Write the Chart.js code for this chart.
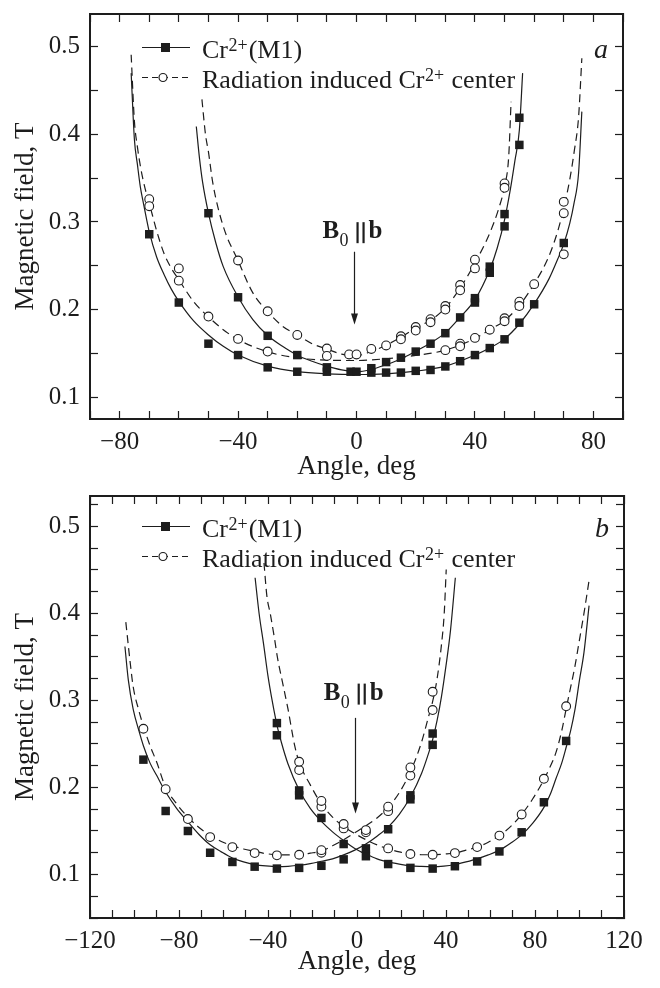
<!DOCTYPE html>
<html>
<head>
<meta charset="utf-8">
<script src="https://cdn.jsdelivr.net/npm/chart.js@4.4.0/dist/chart.umd.min.js"></script>
<style>
  body { margin: 0; background: #fff; }
  canvas { display: block; }
</style>
</head>
<body>
<canvas id="panelA" width="660" height="490"></canvas>
<canvas id="panelB" width="660" height="498"></canvas>
<script>
// ---- panel a: measured resonance fields ----
const aCrAngle = [-70, -60, -50, -50, -40, -40, -30, -30, -20, -20, -10, -10, -2, 0, 5, 5, 10, 10, 15, 15,
  20, 20, 25, 25, 30, 30, 35, 35, 40, 40, 40, 45, 45, 45, 50, 50, 50, 55, 55, 55, 60, 70];
const aCrField = [0.286, 0.208, 0.161, 0.310, 0.148, 0.214, 0.134, 0.170, 0.129, 0.148, 0.129, 0.134, 0.129, 0.129, 0.128, 0.133, 0.128, 0.140, 0.128, 0.145,
  0.130, 0.152, 0.131, 0.161, 0.135, 0.173, 0.141, 0.191, 0.148, 0.208, 0.213, 0.156, 0.242, 0.249, 0.166, 0.295, 0.309, 0.185, 0.388, 0.419, 0.206, 0.276];

const aRadAngle = [-70, -70, -60, -60, -50, -40, -40, -30, -30, -20, -10, -10, -2.5, 0, 5, 10, 15, 15, 20, 20, 25, 25,
  30, 30, 30, 35, 35, 35, 35, 40, 40, 40, 45, 50, 50, 50, 50, 55, 55, 60, 70, 70, 70];
const aRadField = [0.326, 0.318, 0.247, 0.233, 0.192, 0.256, 0.1665, 0.198, 0.152, 0.171, 0.1555, 0.147, 0.1487, 0.1487, 0.155, 0.159, 0.1695, 0.166, 0.180, 0.176, 0.189, 0.1855,
  0.204, 0.200, 0.1536, 0.228, 0.222, 0.161, 0.158, 0.257, 0.247, 0.1676, 0.177, 0.344, 0.339, 0.190, 0.1866, 0.209, 0.204, 0.229, 0.323, 0.310, 0.263];

// ---- panel a: fitted angular dependences ----
const aFitCrOuterAngle = [-76.1, -75, -74, -73, -72, -71, -70, -67.5, -65, -62.5, -60, -55, -50, -45, -40, -30, -20, -10, 0,
  10, 20, 30, 40, 45, 50, 55, 60, 65, 68, 70, 72, 73.5, 75, 76.1];
const aFitCrOuterField = [0.470, 0.394, 0.366, 0.340, 0.322, 0.305, 0.289, 0.260, 0.240, 0.223, 0.2094, 0.187, 0.171, 0.158, 0.148, 0.1353, 0.129, 0.1266, 0.1258,
  0.1266, 0.1296, 0.1353, 0.148, 0.156, 0.1665, 0.1835, 0.2064, 0.235, 0.258, 0.275, 0.298, 0.322, 0.356, 0.426];

const aFitRadOuterAngle = [-76.1, -75, -74, -73, -72, -71, -70, -67.5, -65, -62.5, -60, -55, -50, -45, -40, -30, -20, -10, 0,
  10, 20, 30, 40, 45, 50, 55, 60, 65, 68, 70, 72, 73.5, 75, 76.1];
const aFitRadOuterField = [0.491, 0.415, 0.386, 0.364, 0.347, 0.333, 0.3215, 0.290, 0.264, 0.247, 0.234, 0.209, 0.1916, 0.177, 0.1657, 0.1517, 0.1448, 0.1422, 0.1418,
  0.1438, 0.1476, 0.1536, 0.1669, 0.177, 0.1874, 0.2046, 0.2292, 0.261, 0.290, 0.316, 0.348, 0.380, 0.420, 0.487];

const aFitCrInnerAngle = [-54.1, -53, -52, -50, -47.5, -45, -40, -35, -30, -25, -20, -15, -10, -5, 0,
  5, 10, 15, 20, 25, 30, 35, 40, 45, 47.5, 50, 52, 53.5, 55, 56.1];
const aFitCrInnerField = [0.409, 0.372, 0.346, 0.310, 0.276, 0.249, 0.2144, 0.1885, 0.1703, 0.158, 0.1479, 0.141, 0.1353, 0.131, 0.1289,
  0.1315, 0.137, 0.1435, 0.1524, 0.1619, 0.1733, 0.1912, 0.2113, 0.2455, 0.270, 0.3025, 0.338, 0.370, 0.405, 0.470];

const aFitRadInnerAngle = [-52.2, -51, -50, -48.5, -45, -40, -35, -30, -25, -20, -15, -10, -5, 0,
  5, 10, 15, 20, 25, 30, 35, 40, 45, 48, 50, 51.4, 52.2];
const aFitRadInnerField = [0.440, 0.400, 0.380, 0.344, 0.295, 0.2558, 0.219, 0.1976, 0.181, 0.171, 0.161, 0.155, 0.149, 0.1475,
  0.152, 0.1593, 0.1684, 0.179, 0.1878, 0.2018, 0.2246, 0.2531, 0.2873, 0.315, 0.3405, 0.3747, 0.4374];

// ---- panel b: measured resonance fields ----
const bCrAngle = [-96, -86, -76, -66, -56, -46, -36, -36, -36, -26, -26, -26, -16, -16, -6, -6, 4, 4, 14, 14,
  24, 24, 24, 34, 34, 34, 44, 54, 64, 74, 84, 94];
const bCrField = [0.232, 0.173, 0.150, 0.125, 0.1144, 0.109, 0.1068, 0.260, 0.274, 0.1076, 0.191, 0.1966, 0.110, 0.165, 0.1174, 0.135, 0.121, 0.130, 0.112, 0.152,
  0.1076, 0.1864, 0.191, 0.1068, 0.249, 0.262, 0.1095, 0.115, 0.1265, 0.1485, 0.183, 0.2535];

const bRadAngle = [-96, -86, -76, -66, -56, -46, -36, -26, -26, -26, -16, -16, -16, -16, -6, -6, 4, 4, 14, 14, 14,
  24, 24, 24, 34, 34, 34, 44, 54, 64, 74, 84, 94];
const bRadField = [0.2675, 0.198, 0.1637, 0.143, 0.1315, 0.1246, 0.122, 0.1227, 0.220, 0.2296, 0.125, 0.128, 0.178, 0.1845, 0.153, 0.158, 0.1485, 0.151, 0.130, 0.1728, 0.178,
  0.1235, 0.2137, 0.223, 0.1227, 0.289, 0.310, 0.1246, 0.1315, 0.1447, 0.169, 0.210, 0.2933];

// ---- panel b: fitted angular dependences ----
const bFitCrLeftAngle = [-104.3, -102.8, -100.6, -98, -96, -93, -90, -86, -81, -76, -71, -66, -61, -56, -51, -46, -41, -36, -31, -26,
  -21, -16, -11, -6, -1, 4, 9, 14, 19, 24, 29, 32, 34, 36, 38, 40, 42, 44.2];
const bFitCrLeftField = [0.362, 0.324, 0.290, 0.265, 0.248, 0.228, 0.2137, 0.1948, 0.1758, 0.1606, 0.146, 0.1341, 0.126, 0.119, 0.1145, 0.1114, 0.1098, 0.109, 0.1094, 0.1106,
  0.1125, 0.1152, 0.118, 0.1225, 0.128, 0.135, 0.144, 0.1545, 0.169, 0.189, 0.216, 0.238, 0.255, 0.277, 0.305, 0.340, 0.380, 0.441];

const bFitCrRightAngle = [-45.8, -44, -42, -40, -38, -36, -34, -31, -26, -21, -16, -11, -6, -1, 4, 9, 14, 19, 24, 29,
  34, 39, 44, 49, 54, 59, 64, 69, 74, 79, 84.2, 87, 89.4, 92, 94.2, 96, 98, 100, 102, 104.3];
const bFitCrRightField = [0.441, 0.400, 0.365, 0.328, 0.298, 0.272, 0.252, 0.227, 0.197, 0.176, 0.161, 0.149, 0.139, 0.130, 0.1235, 0.118, 0.1145, 0.112, 0.110, 0.1093,
  0.109, 0.1097, 0.1115, 0.1145, 0.118, 0.1225, 0.128, 0.136, 0.1455, 0.159, 0.178, 0.193, 0.210, 0.228, 0.248, 0.265, 0.290, 0.3236, 0.355, 0.409];

const bFitRadLeftAngle = [-103.9, -102, -100.6, -98, -96, -93, -90, -86, -81, -76, -71, -66, -61, -56, -51, -46, -41, -36, -31,
  -26, -21, -16, -11, -6, -1, 4, 9, 14, 19, 24, 29, 32, 34.1, 36, 38, 39.2, 40.1];
const bFitRadLeftField = [0.390, 0.345, 0.316, 0.288, 0.2706, 0.248, 0.229, 0.200, 0.181, 0.166, 0.154, 0.1447, 0.138, 0.133, 0.1293, 0.1265, 0.124, 0.1227, 0.1225,
  0.1227, 0.1245, 0.127, 0.133, 0.140, 0.148, 0.156, 0.165, 0.177, 0.194, 0.218, 0.252, 0.280, 0.300, 0.325, 0.365, 0.400, 0.4506];

const bFitRadRightAngle = [-41.8, -40.5, -39, -37, -35.8, -33, -31, -28, -26, -21, -16, -11, -6, -1, 4, 9, 14, 19, 24, 29,
  34, 39, 44, 49, 54, 59, 64, 69, 74, 79, 84.2, 87, 89.4, 92, 94.2, 96, 98, 100, 102, 104.3];
const bFitRadRightField = [0.458, 0.420, 0.400, 0.370, 0.350, 0.315, 0.290, 0.248, 0.229, 0.203, 0.181, 0.166, 0.155, 0.147, 0.140, 0.134, 0.1296, 0.126, 0.1237, 0.1227,
  0.1227, 0.1235, 0.1246, 0.128, 0.1315, 0.137, 0.1447, 0.155, 0.169, 0.187, 0.210, 0.225, 0.240, 0.265, 0.293, 0.315, 0.340, 0.370, 0.400, 0.438];

const INK = '#1d1d1d';
const SERIF = '"Liberation Serif", "Times New Roman", serif';

const pts = (xs, ys) => xs.map((x, i) => ({ x, y: ys[i] }));

function curve(xs, ys, dashed) {
  return {
    data: pts(xs, ys),
    showLine: true,
    pointRadius: 0,
    borderColor: INK,
    borderWidth: 1.2,
    borderDash: dashed ? [8, 5] : [],
    cubicInterpolationMode: 'monotone',
    order: 1,
  };
}

function squares(xs, ys) {
  return { data: pts(xs, ys), pointStyle: 'rect', pointRadius: 6, backgroundColor: INK, borderColor: INK, borderWidth: 0, order: 0 };
}

function circles(xs, ys) {
  return { data: pts(xs, ys), pointStyle: 'circle', pointRadius: 4.4, backgroundColor: '#fff', borderColor: INK, borderWidth: 1.1, order: 0 };
}

const minus = (v) => (v < 0 ? '\u2212' + Math.abs(v) : String(v));
const isTenth = (v) => Math.abs(v * 10 - Math.round(v * 10)) < 1e-6;

// fixed box sizes so the frame sits where it should; label overhang is ignored
function sizeX(h) {
  return (s) => { s.height = h; s.paddingLeft = 0; s.paddingRight = 0; };
}
function sizeY(w) {
  return (s) => { s.width = w; s.paddingTop = 0; s.paddingBottom = 0; };
}

function axes(p) {
  const font = { family: SERIF, size: 25 };
  const titleFont = { family: SERIF, size: 27 };
  const grid = { drawOnChartArea: false, drawTicks: true, tickLength: -8, tickWidth: 1.2, tickColor: INK };
  const border = { display: true, width: 2, color: INK };
  const xTicks = { stepSize: 10, autoSkip: false, includeBounds: false, maxRotation: 0 };
  const yTicks = { stepSize: p.yStep, autoSkip: false, includeBounds: false };
  return {
    x: {
      type: 'linear', position: 'bottom', min: p.xMin, max: p.xMax, grid, border,
      ticks: { ...xTicks, padding: 16, color: INK, font, callback: (v) => (v % 40 === 0 ? minus(v) : '') },
      title: { display: true, text: 'Angle, deg', color: INK, font: titleFont, padding: { top: 0, bottom: p.xTitlePad } },
      afterFit: sizeX(p.h - p.bottom),
    },
    x2: {
      type: 'linear', position: 'top', min: p.xMin, max: p.xMax, grid, border,
      ticks: { ...xTicks, display: false },
      afterFit: sizeX(p.top),
    },
    y: {
      type: 'linear', position: 'left', min: p.yMin, max: p.yMax, grid, border,
      ticks: { ...yTicks, padding: 18, color: INK, font, callback: (v) => (isTenth(v) ? v.toFixed(1) : '') },
      title: { display: true, text: 'Magnetic field, T', color: INK, font: titleFont, padding: { top: 10, bottom: 0 } },
      afterFit: sizeY(90),
    },
    y2: {
      type: 'linear', position: 'right', min: p.yMin, max: p.yMax, grid, border,
      ticks: { ...yTicks, display: false },
      afterFit: sizeY(660 - p.right),
    },
  };
}

// "Cr" with a 2+ superscript, plus surrounding words
function writeCr(ctx, x, base, before, after) {
  ctx.font = `26px ${SERIF}`;
  ctx.fillText(before + 'Cr', x, base);
  x += ctx.measureText(before + 'Cr').width + 0.5;
  ctx.font = `18px ${SERIF}`;
  ctx.fillText('2+', x, base - 7);
  x += ctx.measureText('2+').width + 1;
  ctx.font = `26px ${SERIF}`;
  ctx.fillText(after, x, base);
}

// key, panel letter and the B0 || b marker
const decor = {
  id: 'decor',
  afterDraw(chart, args, o) {
    const { ctx, chartArea: area, scales: { x, y } } = chart;
    ctx.save();
    ctx.strokeStyle = INK;
    ctx.fillStyle = INK;
    ctx.lineWidth = 1.2;
    ctx.textAlign = 'left';
    ctx.textBaseline = 'alphabetic';

    const r1 = Math.round(y.getPixelForValue(0.5)) + 0.5;
    const r2 = r1 + 30;
    const k0 = area.left + 52, k1 = area.left + 100;
    ctx.beginPath(); ctx.moveTo(k0, r1); ctx.lineTo(k1, r1); ctx.stroke();
    ctx.fillRect(area.left + 71, r1 - 4.5, 9, 9);
    ctx.setLineDash([6, 4]);
    ctx.beginPath(); ctx.moveTo(k0, r2); ctx.lineTo(k1, r2); ctx.stroke();
    ctx.setLineDash([]);
    ctx.beginPath(); ctx.arc(area.left + 73, r2, 4, 0, Math.PI * 2);
    ctx.fillStyle = '#fff'; ctx.fill(); ctx.stroke();
    ctx.fillStyle = INK;
    writeCr(ctx, area.left + 112, r1 + 10, '', '(M1)');
    writeCr(ctx, area.left + 112, r2 + 10, 'Radiation induced ', ' center');

    ctx.font = `italic 28px ${SERIF}`;
    ctx.fillText(o.tag, area.right - 29, r1 + 10);

    // arrow
    const ax = Math.round(x.getPixelForValue(o.arrowX)) + 0.5;
    const ay0 = y.getPixelForValue(o.arrowTop), ay1 = y.getPixelForValue(o.arrowTip);
    ctx.beginPath(); ctx.moveTo(ax, ay0); ctx.lineTo(ax, ay1 - 8); ctx.stroke();
    ctx.beginPath(); ctx.moveTo(ax, ay1); ctx.lineTo(ax - 3.5, ay1 - 11); ctx.lineTo(ax + 3.5, ay1 - 11); ctx.closePath(); ctx.fill();

    // B0 || b
    const nx = x.getPixelForValue(o.noteX) - 29.5, ny = y.getPixelForValue(o.noteY);
    ctx.font = `bold 25px ${SERIF}`;
    ctx.fillText('B', nx, ny);
    ctx.font = `18px ${SERIF}`;
    ctx.fillText('0', nx + 17, ny + 8);
    ctx.lineWidth = 2.2;
    [nx + 35, nx + 41].forEach((bx) => {
      ctx.beginPath(); ctx.moveTo(bx, ny - 16); ctx.lineTo(bx, ny + 5); ctx.stroke();
    });
    ctx.font = `bold 25px ${SERIF}`;
    ctx.fillText('b', nx + 46, ny);
    ctx.restore();
  },
};

function makePanel(id, p, datasets, note) {
  return new Chart(document.getElementById(id), {
    type: 'scatter',
    data: { datasets },
    options: {
      responsive: false,
      animation: false,
      devicePixelRatio: 1,
      layout: { padding: 0 },
      plugins: { legend: { display: false }, tooltip: { enabled: false }, decor: note },
      scales: axes(p),
    },
    plugins: [decor],
  });
}

makePanel('panelA',
  { h: 490, top: 14, bottom: 419, right: 623, xMin: -90, xMax: 90, yMin: 0.075, yMax: 0.5375, yStep: 0.05, xTitlePad: 7 },
  [
    squares(aCrAngle, aCrField),
    circles(aRadAngle, aRadField),
    curve(aFitCrOuterAngle, aFitCrOuterField, false),
    curve(aFitCrInnerAngle, aFitCrInnerField, false),
    curve(aFitRadOuterAngle, aFitRadOuterField, true),
    curve(aFitRadInnerAngle, aFitRadInnerField, true),
  ],
  { tag: 'a', arrowX: -1, arrowTop: 0.266, arrowTip: 0.183, noteX: -1.5, noteY: 0.2815 });

makePanel('panelB',
  { h: 498, top: 4, bottom: 428, right: 624, xMin: -120, xMax: 120, yMin: 0.05, yMax: 0.535, yStep: 0.025, xTitlePad: 10 },
  [
    squares(bCrAngle, bCrField),
    circles(bRadAngle, bRadField),
    curve(bFitCrLeftAngle, bFitCrLeftField, false),
    curve(bFitCrRightAngle, bFitCrRightField, false),
    curve(bFitRadLeftAngle, bFitRadLeftField, true),
    curve(bFitRadRightAngle, bFitRadRightField, true),
  ],
  { tag: 'b', arrowX: -0.9, arrowTop: 0.280, arrowTip: 0.170, noteX: -1.7, noteY: 0.301 });
</script>
</body>
</html>
